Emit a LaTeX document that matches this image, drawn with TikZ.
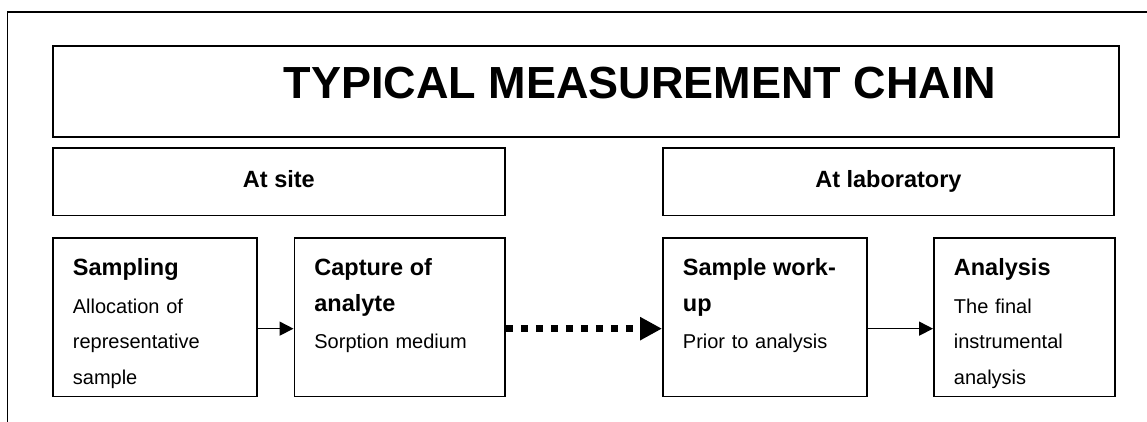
\documentclass[tikz,border=0pt]{standalone}
\usepackage{fontspec}
\setmainfont{Liberation Sans}
\usetikzlibrary{arrows.meta}
% heading lines inside the step boxes
\newcommand{\steptitle}{\fontsize{23.5}{35.5}\selectfont\bfseries}
\begin{document}
\begin{tikzpicture}[x=1pt,y=-1pt,
  frame/.style={draw=black,line width=1.8pt},
  headbox/.style={frame,anchor=north west,inner sep=0pt,minimum height=67.5pt,
     font=\fontsize{23.5}{28}\selectfont\bfseries,text height=17pt,text depth=4.5pt},
  stepbox/.style={frame,anchor=north west,inner xsep=20pt,inner ysep=0pt,
     align=left,text height=38pt,text depth=120.5pt,
     font=\fontsize{20}{35.5}\selectfont},
  flow/.style={line width=1.6pt,-{Triangle[length=14pt,width=14pt]}},
  transfer/.style={line width=7.5pt,dash pattern=on 7pt off 8pt,
     -{Triangle[length=22pt,width=22pt]}}
]
\useasboundingbox (0,0) rectangle (1147,422);

% open outer frame
\draw[frame] (1150,12) -- (7.5,12) -- (7.5,425);

% title
\node[frame,anchor=north west,inner sep=0pt,text height=53pt,text depth=38pt,
  font=\fontsize{45}{54}\selectfont\bfseries] (title) at (52,45)
  {\makebox[1066pt][l]{\hspace{231pt}TYPICAL MEASUREMENT CHAIN}};

% location headers
\node[headbox,minimum width=452pt] (site) at (52,147) {At site};
\node[headbox,minimum width=451pt] (lab) at (662,147) {At laboratory};

% steps of the chain
\node[stepbox,text width=164pt] (samp) at (52,237)
  {{\steptitle Sampling}\\[2pt]Allocation of\\representative\\sample};
\node[stepbox,text width=170.5pt] (capt) at (293.5,237)
  {{\steptitle Capture of}\\{\steptitle analyte}\\[2pt]Sorption medium};
\node[stepbox,text width=164pt] (work) at (662,237)
  {{\steptitle Sample work-}\\{\steptitle up}\\[2pt]Prior to analysis};
\node[stepbox,text width=141pt] (anal) at (933,237)
  {{\steptitle Analysis}\\[2pt]The final\\instrumental\\analysis};

% connectors
\draw[flow] ([yshift=-11.5pt]samp.east) -- ([yshift=-11.5pt]capt.west);
\draw[transfer] ([yshift=-11.5pt]capt.east) -- ([yshift=-11.5pt]work.west);
\draw[flow] ([yshift=-11.5pt]work.east) -- ([yshift=-11.5pt]anal.west);
\end{tikzpicture}
\end{document}
